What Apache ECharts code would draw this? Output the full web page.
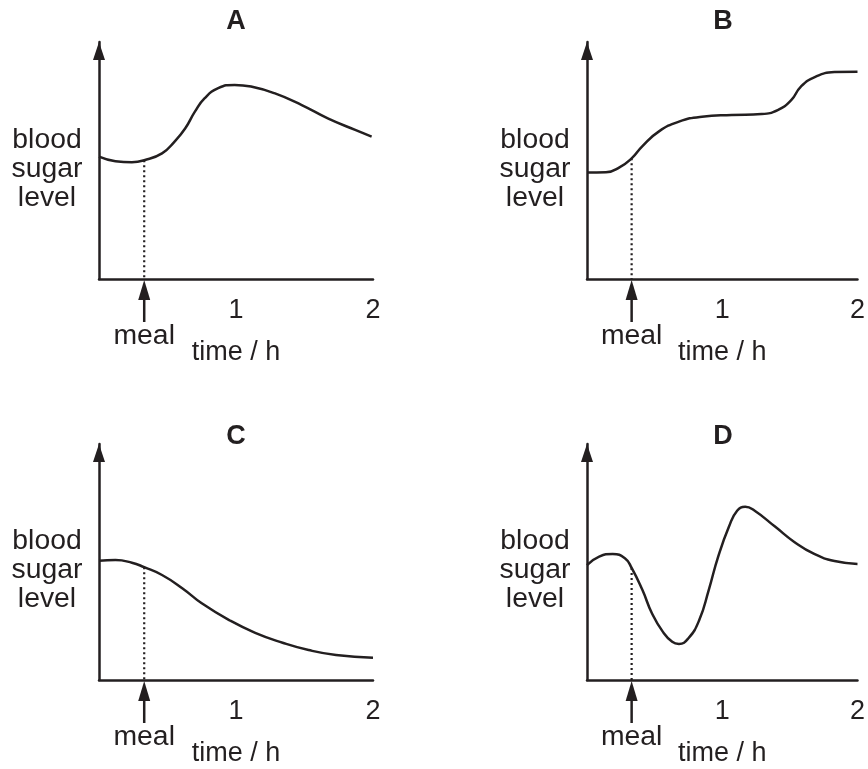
<!DOCTYPE html>
<html><head><meta charset="utf-8">
<script src="https://cdn.jsdelivr.net/npm/echarts@6/dist/echarts.min.js"></script>
<style>html,body{margin:0;padding:0;background:#fff}#c{width:868px;height:769px}</style>
</head><body><div id="c"></div>
<script>
// ---- data ----
const panelTitles = ['A', 'B', 'C', 'D'];
const xTickLabels = ['1', '2'];
const yAxisName = ['blood', 'sugar', 'level'];
const mealLabel = 'meal';
const timeLabel = 'time / h';
const mealTime = 0.33;
const curveA = [[0, 51.6], [0.12, 49.7], [0.24, 49.3], [0.33, 50.1], [0.46, 53.0], [0.55, 57.9], [0.63, 63.6], [0.70, 70.6], [0.77, 76.2], [0.87, 80.5], [0.99, 81.9], [1.11, 81.2], [1.28, 78.4], [1.48, 73.4], [1.67, 67.8], [1.87, 62.9], [1.99, 60.1]];
const curveB = [[0, 44.9], [0.14, 45.0], [0.24, 47.1], [0.33, 50.9], [0.41, 56.1], [0.53, 62.2], [0.68, 66.4], [0.85, 68.5], [1.07, 69.2], [1.29, 69.6], [1.41, 71.3], [1.51, 75.5], [1.58, 81.1], [1.68, 85.1], [1.83, 87.3], [2.0, 87.5]];
const curveC = [[0, 50.5], [0.12, 50.8], [0.24, 49.7], [0.33, 47.8], [0.46, 44.5], [0.61, 38.8], [0.75, 32.5], [0.95, 25.4], [1.14, 20.0], [1.34, 15.8], [1.53, 12.7], [1.73, 10.6], [2.0, 9.4]];
const curveD = [[0, 48.7], [0.09, 52.3], [0.19, 53.4], [0.28, 51.6], [0.33, 47.5], [0.41, 38.1], [0.48, 28.3], [0.56, 20.5], [0.63, 16.2], [0.68, 15.3], [0.75, 17.7], [0.83, 25.4], [0.90, 38.1], [0.97, 52.3], [1.05, 65.0], [1.11, 71.7], [1.17, 73.4], [1.24, 71.7], [1.39, 65.0], [1.53, 58.6], [1.68, 53.4], [1.83, 50.4], [2.0, 49.2]];
const curves = [curveA, curveB, curveC, curveD];

// ---- layout / style ----
const INK = '#231f20';
const FONT = '"Liberation Sans", Arial, Helvetica, sans-serif';
const grids = [
  {left: 99, top: 42, width: 274, height: 237},
  {left: 587, top: 42, width: 273, height: 237},
  {left: 99, top: 444, width: 274, height: 236},
  {left: 587, top: 444, width: 273, height: 236}
];
const titlePos = [[236, 22], [723, 22], [236, 437], [723, 437]];

const chart = echarts.init(document.getElementById('c'), null, {renderer: 'canvas'});

const xAxes = [], yAxes = [], series = [];
grids.forEach((g, i) => {
  xAxes.push({
    type: 'value', gridIndex: i, min: 0, max: 2, interval: 1,
    axisLine: {show: true, onZero: false, lineStyle: {color: INK, width: 2.5}},
    axisTick: {show: false}, splitLine: {show: false},
    axisLabel: {
      show: true, showMinLabel: false, margin: 18,
      fontSize: 27, fontFamily: FONT, color: INK,
      formatter: v => (v === 0 ? '' : xTickLabels[v - 1])
    }
  });
  yAxes.push({
    type: 'value', gridIndex: i, min: 0, max: 100,
    axisLine: {show: true, onZero: false, symbol: ['none', 'triangle'], symbolSize: [12, 18], symbolOffset: [0, -9], lineStyle: {color: INK, width: 2.5}},
    axisTick: {show: false}, axisLabel: {show: false}, splitLine: {show: false}
  });
  const c = curves[i];
  const mealPt = c.find(p => p[0] === mealTime);
  series.push({
    type: 'line', xAxisIndex: i, yAxisIndex: i, data: c, smooth: 0.5,
    symbol: 'none', lineStyle: {color: INK, width: 2.5}, clip: false, z: 3
  });
  series.push({
    type: 'line', xAxisIndex: i, yAxisIndex: i, data: [[mealTime, mealPt[1]], [mealTime, 0]],
    symbol: 'none', lineStyle: {color: INK, width: 2.2, type: [2, 3]}, z: 2
  });
});

chart.setOption({
  animation: false,
  backgroundColor: '#fff',
  grid: grids.map(g => Object.assign({containLabel: false}, g)),
  xAxis: xAxes, yAxis: yAxes, series: series
});

// text and meal arrows, positioned from the axes' own scales
const graphics = [];
grids.forEach((g, i) => {
  const origin = chart.convertToPixel({gridIndex: i}, [0, 0]);
  const meal = chart.convertToPixel({gridIndex: i}, [mealTime, 0]);
  const one = chart.convertToPixel({gridIndex: i}, [1, 0]);
  const mid = chart.convertToPixel({gridIndex: i}, [0, 50]);
  graphics.push({type: 'text', x: titlePos[i][0], y: titlePos[i][1],
    style: {text: panelTitles[i], fontSize: 27, fontWeight: 'bold', fontFamily: FONT, fill: INK, align: 'center', verticalAlign: 'middle'}});
  graphics.push({type: 'text', x: origin[0] - 52, y: mid[1] + 9, scaleX: 1.05,
    style: {text: yAxisName.join('\n'), fontSize: 27, lineHeight: 29, fontFamily: FONT, fill: INK, align: 'center', verticalAlign: 'middle'}});
  graphics.push({type: 'line', shape: {x1: meal[0], y1: meal[1] + 18, x2: meal[0], y2: meal[1] + 43}, style: {stroke: INK, lineWidth: 2.5}});
  graphics.push({type: 'polygon', shape: {points: [[meal[0], meal[1] + 1], [meal[0] - 6, meal[1] + 21], [meal[0] + 6, meal[1] + 21]]}, style: {fill: INK}});
  graphics.push({type: 'text', x: meal[0], y: meal[1] + 58, scaleX: 1.05,
    style: {text: mealLabel, fontSize: 27, fontFamily: FONT, fill: INK, align: 'center', verticalAlign: 'middle'}});
  graphics.push({type: 'text', x: one[0], y: one[1] + 74,
    style: {text: timeLabel, fontSize: 27, fontFamily: FONT, fill: INK, align: 'center', verticalAlign: 'middle'}});
});
chart.setOption({graphic: graphics});
</script></body></html>
